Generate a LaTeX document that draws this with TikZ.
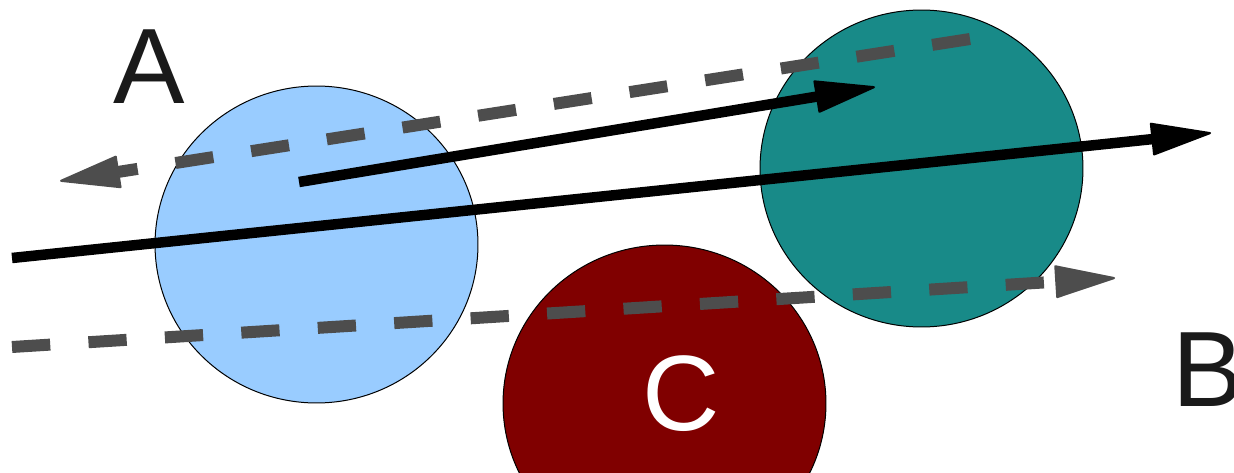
\documentclass[tikz,border=0pt]{standalone}
\usepackage{fontspec}
\setmainfont{Liberation Sans}
\usetikzlibrary{arrows.meta,shapes.geometric}
\definecolor{ballblue}{HTML}{99CCFF}
\definecolor{ballteal}{HTML}{188A88}
\definecolor{ballred}{HTML}{800000}
\definecolor{dashgray}{HTML}{4D4D4D}
\definecolor{labelink}{HTML}{1A1A1A}
\begin{document}
\begin{tikzpicture}[x=0.02cm,y=-0.02cm,
  ball/.style={ellipse, draw=black, line width=0.02cm, minimum width=6.46cm, minimum height=6.34cm, inner sep=0pt},
  bigtext/.style={inner sep=0pt, font=\fontsize{61pt}{61pt}\selectfont},
  tiparrow/.style={-{Triangle[length=1.26cm,width=0.66cm,round,line width=1.2pt]}},
  solidarrow/.style={tiparrow, draw=black, line width=0.21cm},
  dasharrow/.style={tiparrow, draw=dashgray, line width=0.24cm, dash pattern=on 0.766cm off 0.766cm}]
\useasboundingbox (0,0) rectangle (1234,473);
% circles
\node[ball, fill=ballblue] (blue) at (316.5,244.5) {};
\node[ball, fill=ballteal] (teal) at (921.5,168.5) {};
\node[ball, fill=ballred] (red) at (664.5,403.5) {};
% connector end points
\coordinate (d1s) at (970,39);
\coordinate (d1e) at (60,181);
\coordinate (d2s) at (12,347);
\coordinate (d2e) at (1115,278);
\coordinate (b1s) at (299,182);
\coordinate (b1e) at (875,87);
\coordinate (b2s) at (12,258);
\coordinate (b2e) at (1211,133);
% connectors
\draw[dasharrow] (d1s) -- (d1e);
\draw[dasharrow] (d2s) -- (d2e);
\draw[solidarrow] (b1s) -- (b1e);
\draw[solidarrow] (b2s) -- (b2e);
% labels
\node[bigtext, text=labelink, anchor=base] (la) at (149,104) {A};
\node[bigtext, text=labelink, anchor=base west] (lb) at (1172,406) {B};
\node[bigtext, text=white, anchor=base] (lc) at (681,430) {C};
\end{tikzpicture}
\end{document}
